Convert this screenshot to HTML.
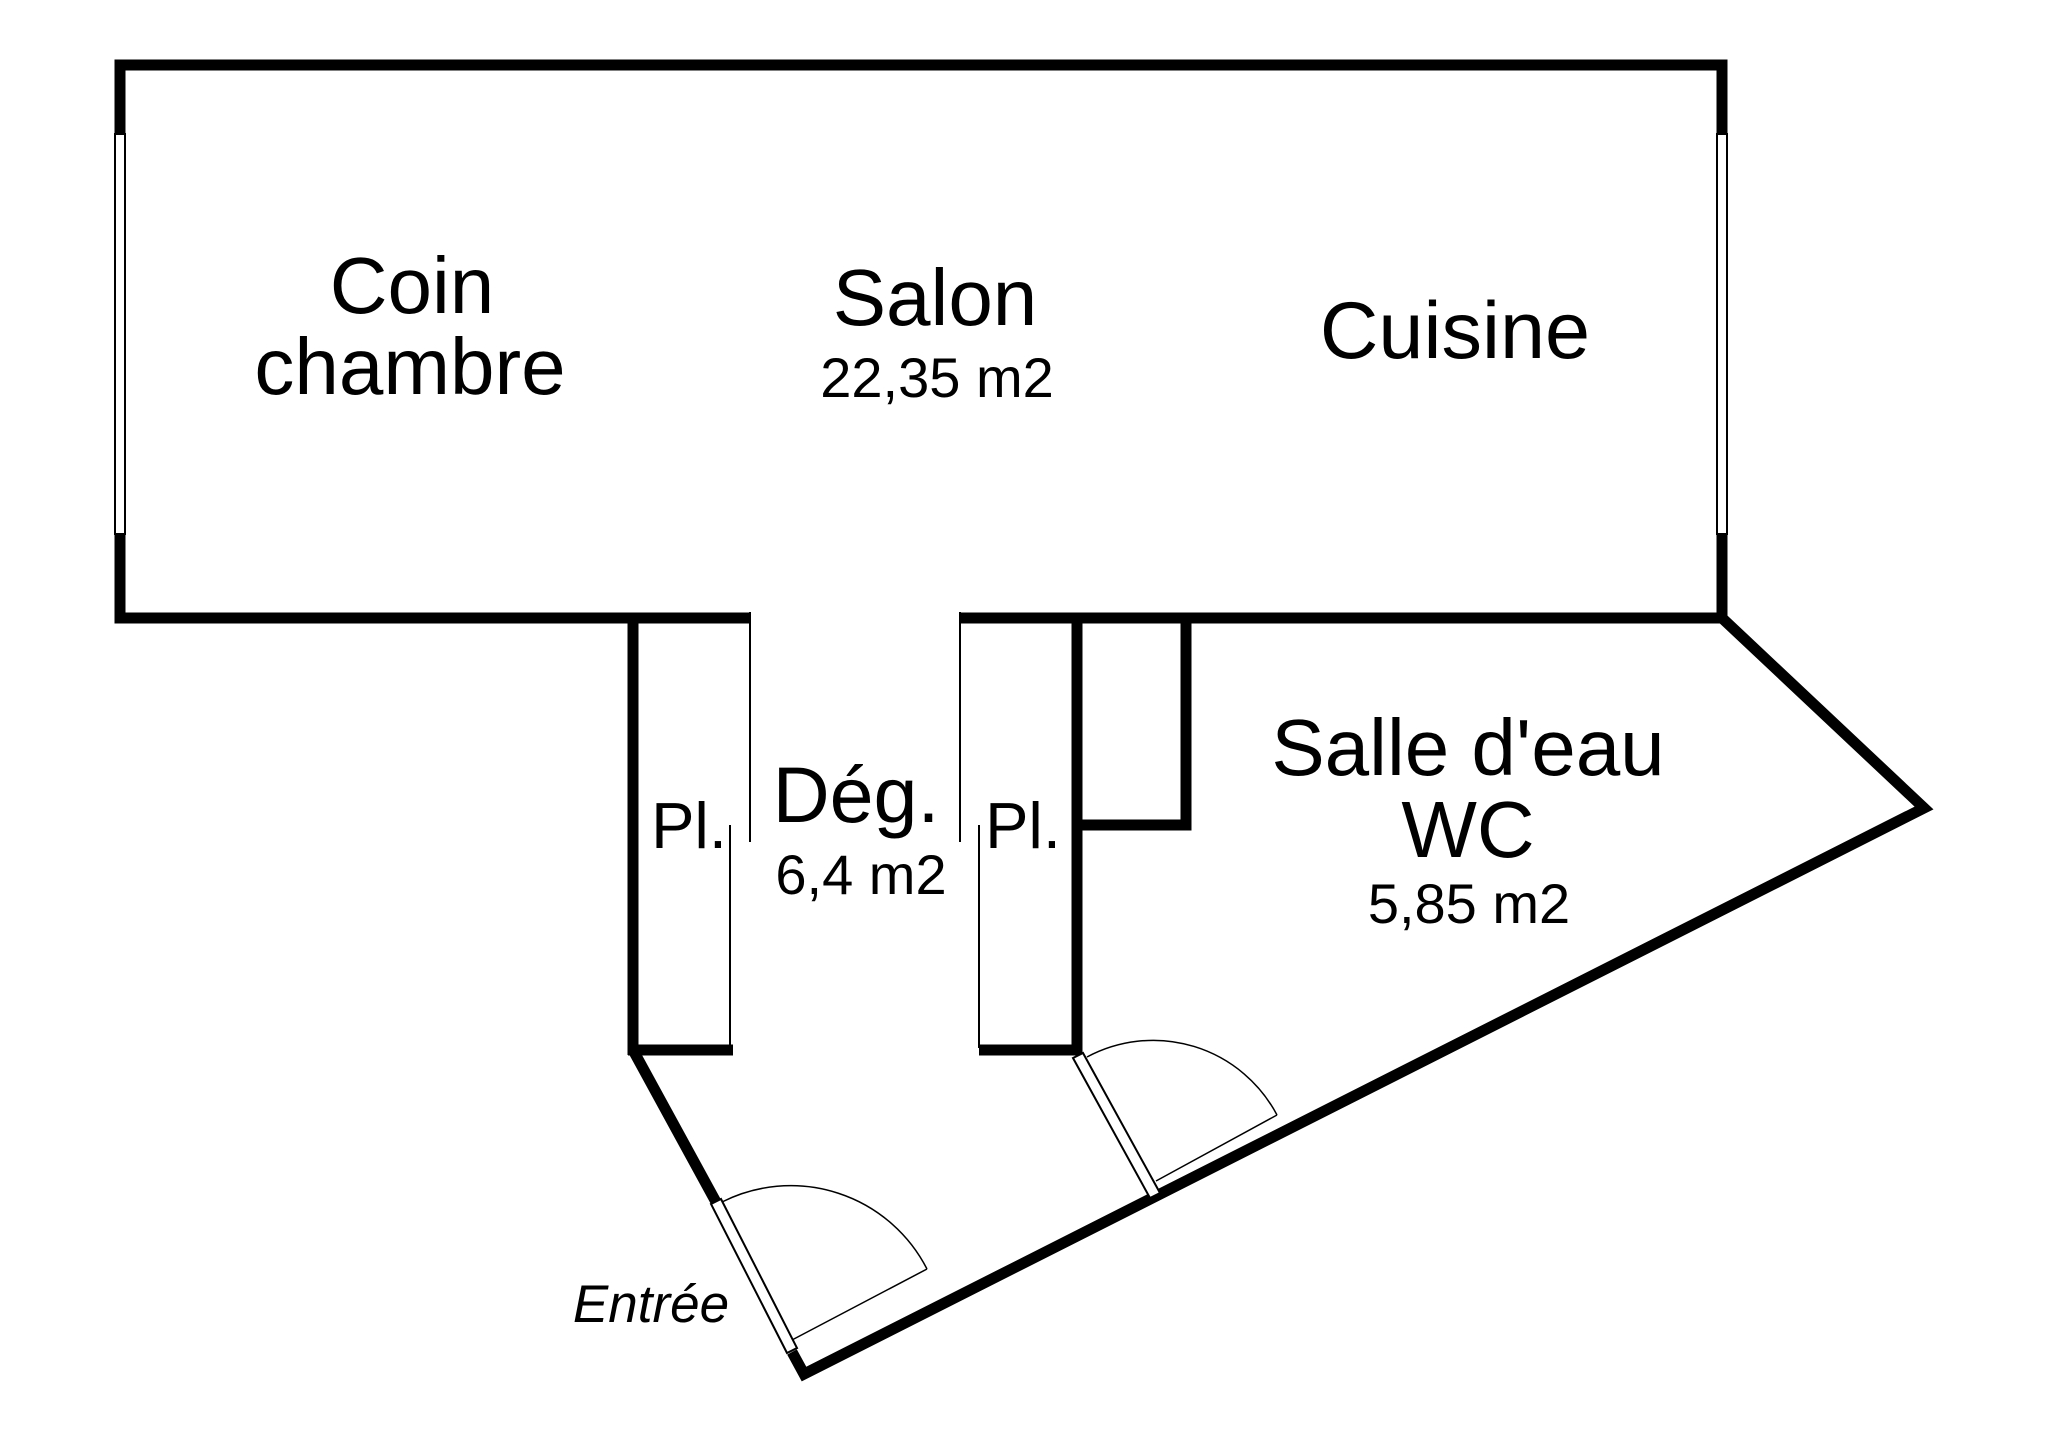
<!DOCTYPE html>
<html><head><meta charset="utf-8"><style>
html,body{margin:0;padding:0;background:#fff;}
svg{display:block;}
text{font-family:"Liberation Sans",Arial,sans-serif;fill:#000;text-anchor:middle;}
</style></head><body>
<svg width="2048" height="1447" viewBox="0 0 2048 1447" xmlns="http://www.w3.org/2000/svg">
<g fill="none" stroke="#000" stroke-width="11" stroke-linejoin="miter" stroke-linecap="butt">
  <polyline points="750,618 120,618 120,65 1722,65 1722,618 960,618"/>
  <polyline points="1722,618 1924,808 804,1374 792,1352"/>
  <line x1="633" y1="618" x2="633" y2="1055"/>
  <line x1="628" y1="1050" x2="733" y2="1050"/>
  <polyline points="633,1050 716,1202"/>
  <line x1="1077" y1="613" x2="1077" y2="1055"/>
  <line x1="979" y1="1050" x2="1082" y2="1050"/>
  <polyline points="1077,825 1186,825 1186,613"/>
</g>
<rect x="115" y="134" width="10" height="400" fill="#fff" stroke="#000" stroke-width="2"/>
<rect x="1717" y="134" width="10" height="400" fill="#fff" stroke="#000" stroke-width="2"/>
<g stroke="#000" stroke-width="2" fill="none">
  <line x1="750" y1="612" x2="750" y2="842"/>
  <line x1="730" y1="825" x2="730" y2="1048"/>
  <line x1="960" y1="612" x2="960" y2="842"/>
  <line x1="979" y1="825" x2="979" y2="1048"/>
</g>
<polygon points="711,1204 721,1199 797,1348 787,1353" fill="#fff" stroke="#000" stroke-width="2"/>
<polygon points="1073,1058 1083,1053 1160,1193 1150,1198" fill="#fff" stroke="#000" stroke-width="2"/>
<g stroke="#000" stroke-width="1.5" fill="none">
  <line x1="792" y1="1340" x2="927" y2="1269"/>
  <path d="M927,1269 A153,153 0 0 0 722,1202"/>
  <line x1="1156" y1="1181" x2="1277" y2="1115"/>
  <path d="M1277,1115 A140,140 0 0 0 1087,1057"/>
</g>
<text x="412" y="313" font-size="80">Coin</text>
<text x="410" y="394" font-size="80">chambre</text>
<text x="935" y="325" font-size="80">Salon</text>
<text x="937" y="397" font-size="56">22,35 m2</text>
<text x="1455" y="358" font-size="81">Cuisine</text>
<text x="1468" y="775" font-size="80">Salle d'eau</text>
<text x="1468" y="857" font-size="80">WC</text>
<text x="1469" y="923" font-size="56">5,85 m2</text>
<text x="856" y="822" font-size="79">Dég.</text>
<text x="861" y="894" font-size="56">6,4 m2</text>
<text x="689" y="848" font-size="65">Pl.</text>
<text x="1023" y="848" font-size="65">Pl.</text>
<text x="651" y="1322" font-size="53" font-style="italic">Entrée</text>
</svg>
</body></html>
